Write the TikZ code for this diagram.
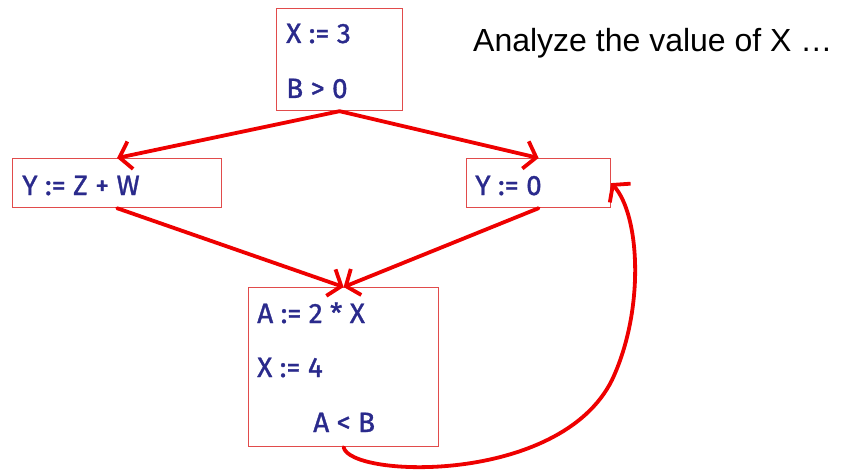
\documentclass[tikz,border=0pt]{standalone}
\usepackage{fontspec}
\setmainfont{Fira Sans}[FakeBold=1.2]
\newfontfamily\titlefont{Liberation Sans}
\usetikzlibrary{arrows.meta}
\definecolor{codeblue}{RGB}{42,42,140}
\definecolor{edgered}{RGB}{238,0,0}
\definecolor{boxred}{RGB}{225,75,75}
\tikzset{
  blk/.style={draw=boxred, line width=1.2pt, anchor=north west, inner sep=0pt},
  stmt/.style={anchor=base west, text=codeblue, inner sep=0pt, font=\fontsize{28}{30}\selectfont},
  flow/.style={draw=edgered, line width=3.8pt, line cap=round, -{Straight Barb[length=11pt,width=28pt]}}
}

\begin{document}
\begin{tikzpicture}[x=1pt,y=-1pt]
  \useasboundingbox (0,0) rectangle (842,473);
  % basic blocks
  \node[blk, minimum width=126pt, minimum height=102pt] (entry) at (276,8) {};
  \node[blk, minimum width=209pt, minimum height=49pt] (thenblk) at (12,158) {};
  \node[blk, minimum width=144pt, minimum height=49pt] (elseblk) at (466,158) {};
  \node[blk, minimum width=190pt, minimum height=159pt] (body) at (248,287) {};

  % statements
  \node[stmt] (s1) at (286,43) {X := 3};
  \node[stmt] (s2) at (286,98) {B > 0};
  \node[stmt] (s3) at (22,195) {Y := Z + W};
  \node[stmt] (s4) at (475,195) {Y := 0};
  \node[stmt] (s5) at (257,323) {A := 2 * X};
  \node[stmt] (s6) at (257,377) {X := 4};
  \node[stmt] (s7) at (313,432) {A < B};

  \node[anchor=base west, inner sep=0pt, font=\titlefont\fontsize{32}{36}\selectfont] (title) at (473,52) {Analyze the value of X …};

  % control flow
  \draw[flow] (entry.south) -- (thenblk.north);
  \draw[flow] (entry.south) -- (elseblk.north);
  \draw[flow] (thenblk.south) -- (body.north);
  \draw[flow] (elseblk.south) -- (body.north);
  \draw[flow] (body.south) .. controls (350,478) and (560,485) .. (612,380)
    .. controls (645,310) and (640,215) .. (elseblk.east);
\end{tikzpicture}
\end{document}
